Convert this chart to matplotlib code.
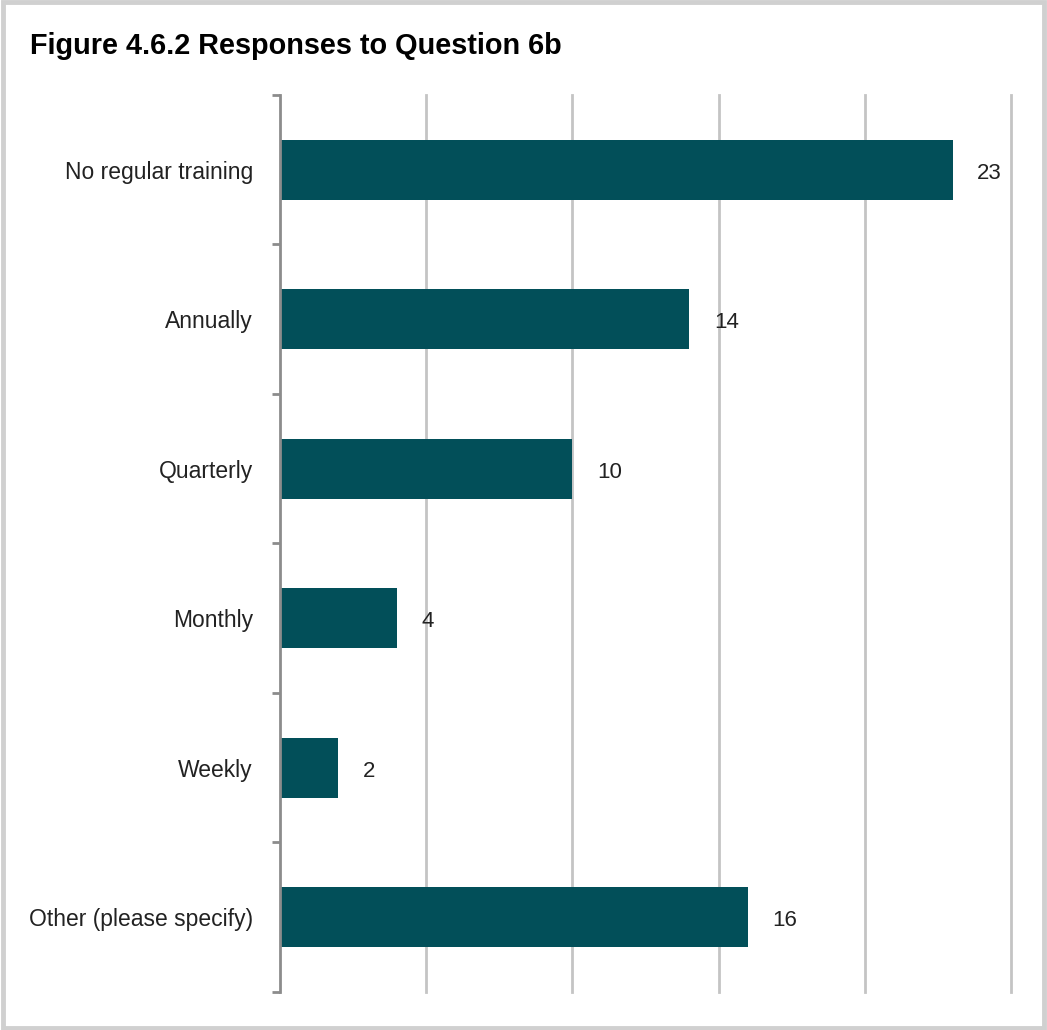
import matplotlib.pyplot as plt
from matplotlib.patches import Rectangle

categories = ["No regular training", "Annually", "Quarterly", "Monthly", "Weekly",
              "Other (please specify)"]
counts = [23, 14, 10, 4, 2, 16]

plt.rcParams['font.family'] = ['Liberation Sans', 'DejaVu Sans']

fig = plt.figure(figsize=(10.47, 10.30), dpi=100)
ax = fig.add_axes([0.2674, 0.0369, 0.6982, 0.8709])

pos = list(range(len(categories)))
ax.barh(pos, counts, height=0.4, color="#024f59")
for p, c in zip(pos, counts):
    ax.text(c + 0.85, p + 0.025, str(c), va="center", ha="left", fontsize=16,
            color="#222222")

ax.set_xlim(0, 25)
ax.set_ylim(len(categories) - 0.5, -0.5)
ax.set_xticks([5, 10, 15, 20, 25])
ax.xaxis.grid(True, color="#c4c4c4", linewidth=2)
for gl in ax.get_xgridlines():
    gl.set_clip_on(False)
ax.set_axisbelow(True)
ax.tick_params(axis="x", length=0, labelbottom=False)

# y axis ticks sit between the categories
ax.set_yticks([p + 0.5 for p in range(-1, len(categories))], minor=False)
ax.set_yticklabels([])
ax.set_yticks(pos, minor=True)
ax.set_yticklabels(categories, minor=True, fontsize=16.5, color="#222222")
ax.tick_params(axis="y", which="minor", length=0, pad=19.5)
ax.tick_params(axis="y", which="major", length=6, width=2, color="#8c8c8c")
for lbl in ax.get_yticklabels(minor=True):
    lbl.set_y(lbl.get_position()[1])

for s in ["top", "right", "bottom"]:
    ax.spines[s].set_visible(False)
ax.spines["left"].set_color("#8c8c8c")
ax.spines["left"].set_linewidth(2)

fig.text(0.0287, 0.955, "Figure 4.6.2 Responses to Question 6b", fontsize=20.8,
         fontweight="bold", va="center", ha="left")

fig.patches.append(Rectangle((0.0024, 0.0024), 0.9952, 0.9952, transform=fig.transFigure,
                             fill=False, edgecolor="#d0d0d0", linewidth=3.5))

fig.savefig("out.png", dpi=100)
